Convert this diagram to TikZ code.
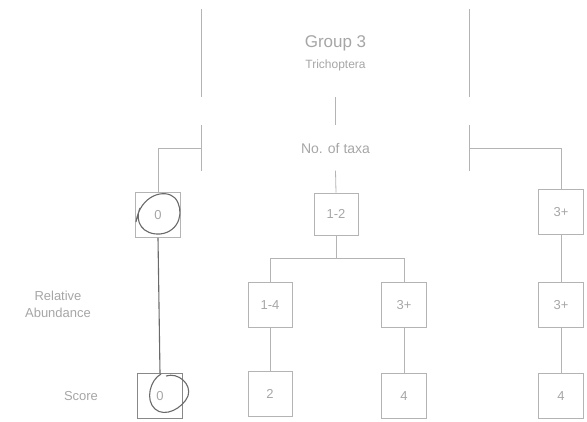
\documentclass[tikz,border=0pt]{standalone}
\usepackage{fontspec}
\setmainfont{Liberation Sans}
\usetikzlibrary{positioning}
\definecolor{ln}{HTML}{B4B4B4}
\definecolor{tx}{HTML}{A6A6A6}
\definecolor{pen}{HTML}{6A6A6A}
\tikzset{
  conn/.style={draw=ln, line width=0.8pt},
  bigbox/.style={draw=none, minimum width=267pt, text=tx, align=center, inner sep=0pt},
  valbox/.style={draw=ln, line width=0.7pt, minimum width=45pt, minimum height=45pt, text=tx, font=\fontsize{13}{15}\selectfont, inner sep=0pt},
  lbl/.style={text=tx, align=center, font=\fontsize{13}{17}\selectfont},
  penline/.style={draw=pen, line width=1.1pt}
}
\begin{document}
\begin{tikzpicture}[x=1pt,y=-1pt]
\useasboundingbox (0,0) rectangle (587,421);
% top boxes
\node[bigbox, minimum height=88pt, font=\fontsize{17}{21}\selectfont] (grp) at (335.5,53) {Group 3\\{\fontsize{12}{14}\selectfont Trichoptera}};
\node[bigbox, minimum height=45pt, font=\fontsize{14}{16}\selectfont] (taxa) at (335.5,148) {No. of taxa};
\foreach \b in {grp,taxa}{
  \draw[conn] (\b.north west) -- (\b.south west);
  \draw[conn] (\b.north east) -- (\b.south east);
}
% value boxes
\node[valbox] (n0) at (158,215) {0};
\node[valbox, minimum width=44pt, minimum height=42pt] (n12) at (336,214) {1-2};
\node[valbox] (n3t) at (561,212) {3+};
\node[valbox, minimum width=44pt] (n14) at (270,305) {1-4};
\node[valbox] (n3m) at (404,305) {3+};
\node[valbox] (n3r) at (561,305) {3+};
% score boxes
\node[valbox, draw=pen!80] (s0) at (160,396) {0};
\node[valbox, minimum width=44pt] (s2) at (270,394) {2};
\node[valbox] (s4) at (404,396) {4};
\node[valbox] (s4r) at (561,396) {4};
% labels
\node[lbl] (ra) at (58,304) {Relative\\Abundance};
\node[lbl] (sc) at (81,396) {Score};
% connectors
\draw[conn] (grp.south) -- (taxa.north);
\draw[conn] (taxa.west) -| (n0.north);
\draw[conn] (taxa.south) -- (n12.north);
\draw[conn] (taxa.east) -| (n3t.north);
\coordinate (j) at (336,258);
\draw[conn] (n12.south) -- (j);
\draw[conn] (j) -| (n14.north);
\draw[conn] (j) -| (n3m.north);
\draw[conn] (n3t.south) -- (n3r.north);
\draw[conn] (n14.south) -- (s2.north);
\draw[conn] (n3m.south) -- (s4.north);
\draw[conn] (n3r.south) -- (s4r.north);
% hand-drawn marks
\draw[penline] (n0.south) -- (s0.north);
\draw[penline] (136,222) .. controls (140,195) and (165,188) .. (175,198)
  .. controls (185,210) and (180,232) .. (160,234)
  .. controls (143,235) and (134,222) .. (140,208);
\draw[penline] (161,374) .. controls (150,380) and (145,400) .. (155,409)
  .. controls (165,418) and (183,408) .. (188,396)
  .. controls (192,384) and (178,372) .. (166,376);
\end{tikzpicture}
\end{document}
